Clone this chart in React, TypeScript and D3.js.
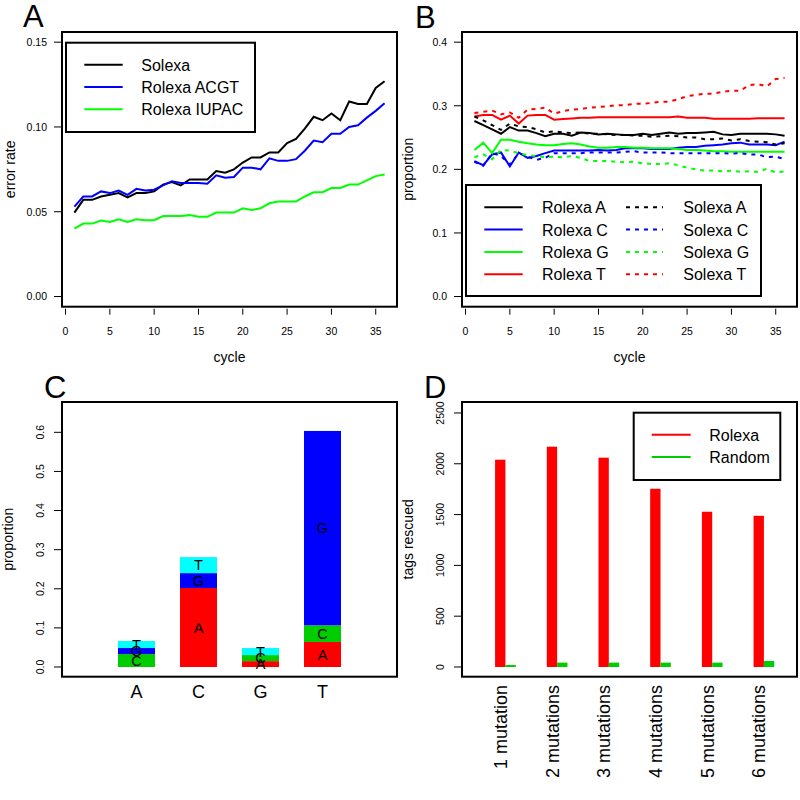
import React from "react";
import * as d3 from "d3";

// ---------- DATA ----------
const cycles = [1,2,3,4,5,6,7,8,9,10,11,12,13,14,15,16,17,18,19,20,21,22,23,24,25,26,27,28,29,30,31,32,33,34,35,36];

// Panel A: error rate per cycle
const solexaErr = [0.0495,0.057,0.057,0.059,0.060,0.061,0.0585,0.061,0.061,0.062,0.066,0.0675,0.0655,0.069,0.069,0.069,0.074,0.073,0.075,0.079,0.082,0.082,0.085,0.085,0.0905,0.093,0.099,0.106,0.104,0.108,0.104,0.115,0.1135,0.1135,0.123,0.127];
const rolexaACGT = [0.053,0.059,0.059,0.062,0.061,0.0625,0.060,0.0635,0.0625,0.063,0.0655,0.068,0.067,0.067,0.067,0.0665,0.0715,0.070,0.0705,0.076,0.076,0.075,0.0815,0.080,0.080,0.081,0.086,0.092,0.091,0.096,0.096,0.100,0.101,0.1055,0.1095,0.114];
const rolexaIUPAC = [0.040,0.043,0.043,0.0448,0.044,0.0455,0.044,0.0455,0.045,0.045,0.0475,0.0475,0.0475,0.048,0.047,0.047,0.0495,0.0495,0.0495,0.052,0.051,0.052,0.055,0.056,0.056,0.056,0.059,0.0615,0.0615,0.064,0.064,0.066,0.066,0.0685,0.071,0.072];

// Panel B: base proportions per cycle
const rolexaA = [0.276,0.2695,0.263,0.256,0.2665,0.261,0.261,0.257,0.252,0.256,0.256,0.253,0.258,0.257,0.255,0.256,0.255,0.254,0.254,0.256,0.254,0.256,0.258,0.256,0.257,0.257,0.258,0.259,0.255,0.254,0.256,0.256,0.256,0.256,0.255,0.253];
const solexaA = [0.283,0.277,0.2695,0.262,0.272,0.2675,0.2665,0.263,0.258,0.260,0.258,0.257,0.258,0.256,0.256,0.255,0.254,0.254,0.253,0.253,0.251,0.252,0.253,0.252,0.250,0.250,0.2475,0.2475,0.2485,0.2455,0.2475,0.2445,0.2435,0.2425,0.239,0.241];
const rolexaC = [0.213,0.2065,0.2235,0.2265,0.2045,0.2265,0.218,0.221,0.2255,0.2295,0.2295,0.2295,0.2295,0.2295,0.2305,0.2295,0.2305,0.233,0.233,0.233,0.232,0.232,0.232,0.234,0.235,0.235,0.237,0.238,0.239,0.241,0.242,0.239,0.239,0.239,0.238,0.2435];
const solexaC = [0.212,0.2055,0.2255,0.221,0.2075,0.2255,0.220,0.215,0.218,0.2255,0.2255,0.2255,0.2255,0.2265,0.2265,0.2265,0.2265,0.2275,0.2285,0.2265,0.2265,0.2265,0.2255,0.2255,0.2255,0.2255,0.2255,0.2255,0.2255,0.2245,0.2255,0.2235,0.2235,0.219,0.220,0.216];
const rolexaG = [0.2305,0.242,0.2255,0.2465,0.2465,0.2435,0.241,0.239,0.238,0.238,0.240,0.241,0.239,0.236,0.234,0.234,0.235,0.235,0.234,0.234,0.233,0.233,0.233,0.232,0.2305,0.2305,0.2295,0.2285,0.2285,0.2275,0.2275,0.2275,0.2275,0.2275,0.2275,0.2275];
const solexaG = [0.219,0.2235,0.216,0.2305,0.2295,0.2255,0.222,0.221,0.219,0.220,0.219,0.221,0.218,0.213,0.213,0.213,0.212,0.211,0.212,0.2095,0.2085,0.2085,0.2095,0.2065,0.2025,0.200,0.198,0.198,0.197,0.198,0.196,0.197,0.196,0.201,0.195,0.197];
const rolexaT = [0.283,0.2855,0.2855,0.278,0.2845,0.272,0.2845,0.2855,0.2855,0.278,0.279,0.280,0.281,0.281,0.282,0.282,0.282,0.282,0.282,0.282,0.282,0.282,0.282,0.283,0.281,0.281,0.281,0.2795,0.2795,0.2795,0.2795,0.2795,0.2805,0.2805,0.2805,0.2805];
const solexaT = [0.2885,0.2905,0.2925,0.2865,0.2895,0.281,0.294,0.295,0.297,0.2875,0.2915,0.294,0.295,0.297,0.298,0.299,0.301,0.301,0.303,0.303,0.3045,0.3065,0.3065,0.3105,0.315,0.317,0.319,0.319,0.322,0.3235,0.3235,0.3325,0.334,0.3305,0.342,0.344];

// Panel C: substitution proportions (bar = original base, segment = substituted base)
const bases = ["A", "C", "G", "T"];
const substA = [0, 0.202, 0.015, 0.064];
const substC = [0.033, 0, 0.0155, 0.0425];
const substG = [0.0155, 0.038, 0, 0.497];
const substT = [0.018, 0.041, 0.018, 0];

// Panel D: tags rescued
const mutationLabels = ["1 mutation", "2 mutations", "3 mutations", "4 mutations", "5 mutations", "6 mutations"];
const rolexaRescued = [2040, 2168, 2060, 1754, 1528, 1488];
const randomRescued = [20, 43, 43, 43, 43, 59];

// Tick values
const cycleTicks = [0, 5, 10, 15, 20, 25, 30, 35];
const errTicks = [0, 0.05, 0.1, 0.15];
const propTicksB = [0, 0.1, 0.2, 0.3, 0.4];
const propTicksC = [0, 0.1, 0.2, 0.3, 0.4, 0.5, 0.6];
const rescuedTicks = [0, 500, 1000, 1500, 2000, 2500];

// ---------- STYLE ----------
const FONT = "'Liberation Sans', Arial, Helvetica, sans-serif";
const GREEN_BRIGHT = "#00FF00";
const GREEN_DARK = "#00CD00";
const baseColor: Record<string, string> = { A: "#FF0000", C: GREEN_DARK, G: "#0000FF", T: "#00FFFF" };

const L = 62, R = 397, T1 = 32, B1 = 306.7, T2 = 402, B2 = 676.7;

function YTicksH({ y, ticks, fmt, x0 }: any) {
  return (
    <g>
      {ticks.map((t: number) => (
        <g key={t}>
          <line x1={x0 - 7} x2={x0} y1={y(t)} y2={y(t)} stroke="#000" strokeWidth={1} />
          <text x={x0 - 14} y={y(t) + 3.8} fontSize={10.5} textAnchor="end" fontFamily={FONT}>{fmt(t)}</text>
        </g>
      ))}
    </g>
  );
}

function YTicksV({ y, ticks, fmt, x0 }: any) {
  return (
    <g>
      {ticks.map((t: number) => (
        <g key={t}>
          <line x1={x0 - 7} x2={x0} y1={y(t)} y2={y(t)} stroke="#000" strokeWidth={1} />
          <text transform={`translate(${x0 - 17},${y(t)}) rotate(-90)`} fontSize={10.5} textAnchor="middle" fontFamily={FONT}>{fmt(t)}</text>
        </g>
      ))}
    </g>
  );
}

function XTicks({ x, ticks, y0 }: any) {
  return (
    <g>
      {ticks.map((t: number) => (
        <g key={t}>
          <line x1={x(t)} x2={x(t)} y1={y0 + 2} y2={y0 + 8} stroke="#000" strokeWidth={1} />
          <text x={x(t)} y={y0 + 28.5} fontSize={10.5} textAnchor="middle" fontFamily={FONT}>{t}</text>
        </g>
      ))}
    </g>
  );
}

export default function App() {
  // Panel A
  const xA = d3.scaleLinear().domain([-0.4, 37.4]).range([L, R]);
  const yA = d3.scaleLinear().domain([-0.006, 0.156]).range([B1, T1]);
  const lineA = (vals: number[]) =>
    d3.line<number>().x((_, i) => xA(cycles[i])).y((v) => yA(v))(vals) || "";
  const seriesA = [
    { name: "Solexa", vals: solexaErr, color: "#000000" },
    { name: "Rolexa ACGT", vals: rolexaACGT, color: "#0000FF" },
    { name: "Rolexa IUPAC", vals: rolexaIUPAC, color: GREEN_BRIGHT },
  ];

  // Panel B
  const offB = 400;
  const xB = d3.scaleLinear().domain([-0.4, 37.4]).range([L + offB, R + offB]);
  const yB = d3.scaleLinear().domain([-0.016, 0.416]).range([B1, T1]);
  const lineB = (vals: number[]) =>
    d3.line<number>().x((_, i) => xB(cycles[i])).y((v) => yB(v))(vals) || "";
  const seriesB = [
    { name: "Rolexa A", vals: rolexaA, color: "#000000", dash: false },
    { name: "Rolexa C", vals: rolexaC, color: "#0000FF", dash: false },
    { name: "Rolexa G", vals: rolexaG, color: GREEN_BRIGHT, dash: false },
    { name: "Rolexa T", vals: rolexaT, color: "#FF0000", dash: false },
    { name: "Solexa A", vals: solexaA, color: "#000000", dash: true },
    { name: "Solexa C", vals: solexaC, color: "#0000FF", dash: true },
    { name: "Solexa G", vals: solexaG, color: GREEN_BRIGHT, dash: true },
    { name: "Solexa T", vals: solexaT, color: "#FF0000", dash: true },
  ];

  // Panel C
  const xC = d3.scaleBand<string>().domain(bases).range([L, R]).paddingInner(0.403).paddingOuter(0.903);
  const yC = d3.scaleLinear().domain([-0.0248, 0.6775]).range([B2, T2]);
  const tableC = bases.map((b, i) => ({ base: b, A: substA[i], C: substC[i], G: substG[i], T: substT[i] }));
  const stackC = d3.stack<any>().keys(bases)(tableC);

  // Panel D
  const offD = 400;
  const xD = d3.scaleLinear().domain([-1.2, 31.2]).range([L + offD, R + offD]);
  const yD = d3.scaleLinear().domain([-95.6, 2608]).range([B2, T2]);

  return (
    <svg width={800} height={800} style={{ position: "absolute", left: 0, top: 0, background: "#fff" }} fontFamily={FONT}>
      <rect x={0} y={0} width={800} height={800} fill="#fff" />

      {/* ---------- Panel A ---------- */}
      <text x={23} y={27} fontSize={31} fontFamily={FONT}>A</text>
      {seriesA.map((s) => (
        <path key={s.name} d={lineA(s.vals)} fill="none" stroke={s.color} strokeWidth={2} />
      ))}
      <rect x={L} y={T1} width={R - L} height={B1 - T1} fill="none" stroke="#000" strokeWidth={2} />
      <YTicksH y={yA} ticks={errTicks} fmt={d3.format(".2f")} x0={L - 1} />
      <XTicks x={xA} ticks={cycleTicks} y0={B1} />
      <text x={(L + R) / 2} y={362} fontSize={14} textAnchor="middle">cycle</text>
      <text transform={`translate(15,${(T1 + B1) / 2}) rotate(-90)`} fontSize={14} textAnchor="middle">error rate</text>
      <rect x={66} y={42.7} width={189} height={89.3} fill="#fff" stroke="#000" strokeWidth={2} />
      {seriesA.map((s, i) => (
        <g key={s.name}>
          <line x1={84.3} x2={122.7} y1={64.7 + 22.3 * i} y2={64.7 + 22.3 * i} stroke={s.color} strokeWidth={2} />
          <text x={141.3} y={70.7 + 22.3 * i} fontSize={16}>{s.name}</text>
        </g>
      ))}

      {/* ---------- Panel B ---------- */}
      <text x={415} y={28} fontSize={31}>B</text>
      {seriesB.map((s) => (
        <path key={s.name} d={lineB(s.vals)} fill="none" stroke={s.color} strokeWidth={2}
          strokeDasharray={s.dash ? "4,5" : undefined} />
      ))}
      <rect x={L + offB} y={T1} width={R - L} height={B1 - T1} fill="none" stroke="#000" strokeWidth={2} />
      <YTicksH y={yB} ticks={propTicksB} fmt={d3.format(".1f")} x0={L + offB - 1} />
      <XTicks x={xB} ticks={cycleTicks} y0={B1} />
      <text x={(L + R) / 2 + offB} y={362} fontSize={14} textAnchor="middle">cycle</text>
      <text transform={`translate(${13 + offB},${(T1 + B1) / 2}) rotate(-90)`} fontSize={14} textAnchor="middle">proportion</text>
      <rect x={466} y={185} width={295} height={111} fill="#fff" stroke="#000" strokeWidth={2} />
      {seriesB.map((s, i) => {
        const col = i < 4 ? 0 : 1;
        const row = i % 4;
        const ly = 207.3 + 22.3 * row;
        const lx1 = col === 0 ? 484.3 : 626;
        const lx2 = col === 0 ? 522.7 : 663;
        const tx = col === 0 ? 542 : 683.3;
        return (
          <g key={s.name}>
            <line x1={lx1} x2={lx2} y1={ly} y2={ly} stroke={s.color} strokeWidth={2}
              strokeDasharray={s.dash ? "4,5" : undefined} />
            <text x={tx} y={ly + 6} fontSize={16}>{s.name}</text>
          </g>
        );
      })}

      {/* ---------- Panel C ---------- */}
      <text x={44} y={398} fontSize={31}>C</text>
      {stackC.map((layer) =>
        layer.map((seg, i) => {
          const h = yC(seg[0]) - yC(seg[1]);
          if (h <= 0.01) return null;
          return (
            <rect key={layer.key + i} x={xC(bases[i])} y={yC(seg[1])} width={xC.bandwidth()} height={h}
              fill={baseColor[layer.key]} />
          );
        })
      )}
      {stackC.map((layer) =>
        layer.map((seg, i) => {
          const h = yC(seg[0]) - yC(seg[1]);
          if (h <= 0.01) return null;
          const mid = yC((seg[0] + seg[1]) / 2);
          return (
            <text key={"t" + layer.key + i} x={(xC(bases[i]) || 0) + xC.bandwidth() / 2} y={mid + 5.2}
              fontSize={14.5} textAnchor="middle">{layer.key}</text>
          );
        })
      )}
      <rect x={L} y={T2} width={R - L} height={B2 - T2} fill="none" stroke="#000" strokeWidth={2} />
      <YTicksV y={yC} ticks={propTicksC} fmt={d3.format(".1f")} x0={L - 1} />
      {bases.map((b) => (
        <text key={b} x={(xC(b) || 0) + xC.bandwidth() / 2} y={698} fontSize={18} textAnchor="middle">{b}</text>
      ))}
      <text transform={`translate(13,${(T2 + B2) / 2}) rotate(-90)`} fontSize={14} textAnchor="middle">proportion</text>

      {/* ---------- Panel D ---------- */}
      <text x={424} y={398} fontSize={31}>D</text>
      {rolexaRescued.map((v, i) => (
        <rect key={"r" + i} x={xD(2 + 5 * i)} y={yD(v)} width={xD(3) - xD(2)} height={yD(0) - yD(v)} fill="#FF0000" />
      ))}
      {randomRescued.map((v, i) => (
        <rect key={"g" + i} x={xD(3 + 5 * i)} y={yD(v)} width={xD(4) - xD(3)} height={yD(0) - yD(v)} fill={GREEN_DARK} />
      ))}
      <rect x={L + offD} y={T2} width={R - L} height={B2 - T2} fill="none" stroke="#000" strokeWidth={2} />
      <YTicksV y={yD} ticks={rescuedTicks} fmt={d3.format("d")} x0={L + offD - 1} />
      {mutationLabels.map((m, i) => (
        <text key={m} transform={`translate(${xD(3 + 5 * i) + 1.5},685) rotate(-90)`} fontSize={18} textAnchor="end">{m}</text>
      ))}
      <text transform={`translate(${413},${(T2 + B2) / 2}) rotate(-90)`} fontSize={14} textAnchor="middle">tags rescued</text>
      <rect x={633.7} y={412.7} width={146.6} height={67.3} fill="#fff" stroke="#000" strokeWidth={2} />
      {[{ n: "Rolexa", c: "#FF0000" }, { n: "Random", c: GREEN_DARK }].map((s, i) => (
        <g key={s.n}>
          <line x1={651.7} x2={690.7} y1={434.7 + 22.3 * i} y2={434.7 + 22.3 * i} stroke={s.c} strokeWidth={2} />
          <text x={709.3} y={440.7 + 22.3 * i} fontSize={16}>{s.n}</text>
        </g>
      ))}
    </svg>
  );
}
